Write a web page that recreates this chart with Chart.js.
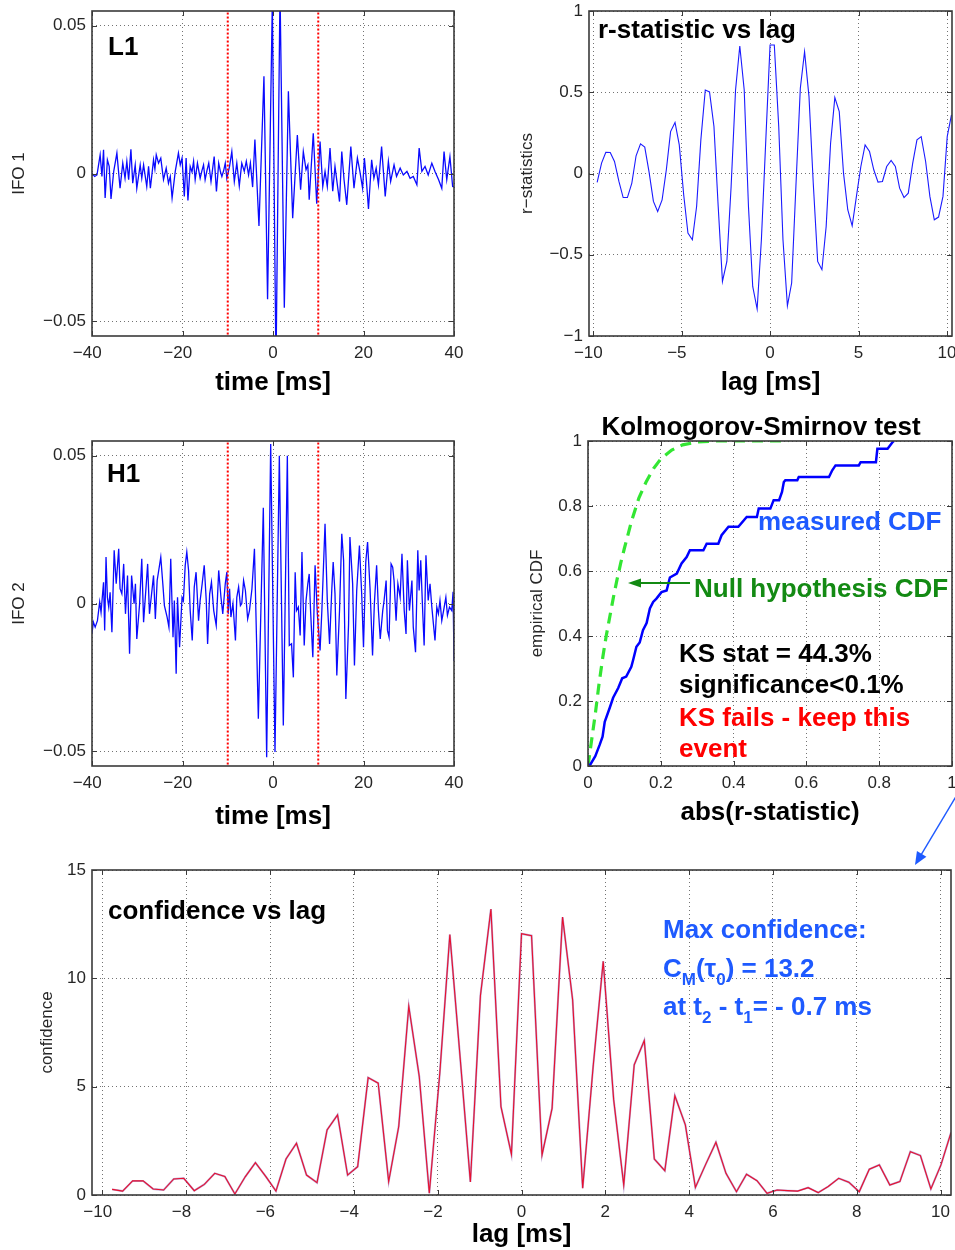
<!DOCTYPE html>
<html>
<head>
<meta charset="utf-8">
<script src="https://cdn.jsdelivr.net/npm/chart.js@4.4.1/dist/chart.umd.min.js"></script>
<style>
html, body { margin: 0; padding: 0; background: #fff; }
#page { position: relative; width: 955px; height: 1250px; overflow: hidden; background: #fff; }
#page canvas { position: absolute; }
</style>
</head>
<body>
<div id="page">
	<canvas id="l1Chart" width="470" height="400" style="left:0;top:0"></canvas>
	<canvas id="rstatChart" width="455" height="400" style="left:500px;top:0"></canvas>
	<canvas id="h1Chart" width="470" height="420" style="left:0;top:420px"></canvas>
	<canvas id="ksChart" width="455" height="440" style="left:500px;top:400px"></canvas>
	<canvas id="confChart" width="955" height="460" style="left:0;top:790px"></canvas>
</div>
<script>
// ---- data ----

// whitened strain, [time ms, value]
var l1Trace = [
	[-40,0],[-39.4,-.001],[-38.9,-.0005],[-38.6,.0024],[-38.2,.0063],[-37.8,-.001],[-37.45,.008],[-37.1,-.0083],
	[-36.6,.0046],[-36.2,.0024],[-35.8,-.0086],[-35.2,.0007],[-34.5,.0069],[-33.8,-.005],[-33.2,.0035],[-32.7,-.0016],
	[-32.3,.0041],[-31.9,-.0021],[-31.4,.0082],[-31.0,-.0033],[-30.45,.0029],[-30.1,-.005],[-29.35,.0029],[-29.0,-.0016],
	[-28.6,.0029],[-27.9,-.0044],[-27.5,.0024],[-27.1,-.005],[-26.4,.0046],[-26.1,.0015],[-25.8,.0063],[-25.3,.0035],
	[-24.8,.0052],[-24.2,-.0021],[-23.6,.0018],[-23.1,-.0033],[-22.7,-.001],[-22.3,-.0083],[-21.6,.0007],[-20.9,.0069],
	[-20.5,.0029],[-20.1,.0052],[-19.6,-.0078],[-19.2,.0052],[-18.8,-.0091],[-18.3,.0024],[-17.9,.0005],[-17.55,.0041],
	[-17.2,-.0021],[-16.7,.0035],[-16.1,-.0016],[-15.7,.001],[-15.35,.0029],[-15.0,-.0021],[-14.6,.001],[-14.2,.0035],
	[-13.7,-.0027],[-13.0,.0057],[-12.5,-.0061],[-12.0,.0035],[-11.6,.0005],[-11.3,-.001],[-10.9,.001],[-10.55,.0035],
	[-10.2,-.0016],[-9.6,.0024],[-9.1,.0074],[-8.55,-.0027],[-8.0,.0035],[-7.45,-.0042],[-6.9,.0035],[-6.35,.0007],
	[-5.9,.0041],[-5.4,-.0005],[-5.0,.0035],[-4.5,-.0046],[-4.0,.0115],[-3.1,-.0178],[-2.0,.0329],[-1.2,-.0426],
	[-0.15,.058],[0.66,-.066],[1.55,.062],[2.5,-.0454],[3.4,.0278],[4.35,-.0151],[5.38,.013],[6.1,-.0055],
	[6.7,.0074],[7.3,.0013],[7.7,.0029],[8.0,-.0089],[8.9,.0136],[9.66,-.0102],[10.4,.0108],[11.0,-.0044],
	[11.5,.0007],[12.0,-.0044],[12.6,.0086],[13.2,-.006],[13.7,.0024],[14.7,-.0095],[15.2,.0074],[15.7,-.0021],
	[16.3,-.0106],[17.2,.0091],[17.9,-.005],[18.65,.0052],[19.2,.0007],[19.8,-.005],[20.2,.0052],[20.6,-.0016],
	[21.1,-.012],[21.8,.0046],[22.3,-.0016],[22.8,.0018],[23.3,-.0038],[24.0,.0091],[24.8,-.0078],[25.5,.0041],
	[26.0,-.0027],[26.75,.0029],[27.3,-.001],[28.1,.0018],[28.8,-.0005],[29.6,.0007],[30.3,-.0016],[31.0,-.001],
	[31.8,-.0038],[32.3,.0086],[32.9,.0007],[33.6,.0024],[34.3,-.0005],[35.1,.0035],[35.8,.0007],[36.6,-.0021],
	[37.3,-.005],[37.8,.0074],[38.4,-.0021],[39.1,.0057],[39.7,-.0044],[40,-.0045]
];

var h1Trace = [
	[-40,-.0101],[-39.7,-.0063],[-39.3,-.008],[-38.8,-.0058],[-38.3,.0005],[-38.0,-.003],[-37.45,.0072],[-37.2,-.0091],
	[-36.9,.0157],[-36.6,.0021],[-36.3,-.0012],[-36.0,.0038],[-35.6,-.0097],[-35.1,.018],[-34.65,.0067],[-34.1,.0185],
	[-33.8,.005],[-33.4,.0033],[-33.0,.0134],[-32.6,-.0035],[-32.15,.0095],[-31.7,-.017],[-31.25,.0095],[-30.7,-.0001],
	[-30.4,.0067],[-30.1,-.012],[-29.5,-.0005],[-29.0,.0151],[-28.6,-.0063],[-27.7,.0134],[-27.3,-.0035],[-26.4,.0095],
	[-26.0,-.0052],[-25.6,.0078],[-24.8,.0157],[-24.35,.0067],[-24.0,-.0007],[-23.4,-.0046],[-23.0,-.008],[-22.6,.0151],
	[-22.1,-.0114],[-21.8,.001],[-21.4,-.0238],[-21.1,.0021],[-20.65,-.0148],[-20.1,.0021],[-19.8,.001],[-19.4,.0129],
	[-19.05,.0174],[-18.65,.0111],[-18.3,-.0024],[-17.85,-.0125],[-17.4,.0056],[-17.0,.0106],[-16.45,-.0058],[-16.1,.001],
	[-15.65,.0067],[-15.2,.0129],[-14.75,.001],[-14.45,-.0137],[-14.0,.0032],[-13.6,.0072],[-13.1,-.0024],[-12.55,-.0074],
	[-12.0,.0112],[-11.5,.0021],[-11.1,-.0035],[-10.55,.0067],[-10.2,.0106],[-9.9,-.0035],[-9.6,.005],[-9.3,-.0046],
	[-8.85,0],[-8.3,-.0125],[-8.0,.0021],[-7.6,.0056],[-7.2,-.0007],[-6.9,0],[-6.5,.0078],[-6.1,.0044],
	[-5.6,-.0052],[-5.2,-.0024],[-4.65,.005],[-4.1,.0185],[-3.24,-.039],[-2.14,.0324],[-1.4,-.052],[-0.51,.054],
	[0.44,-.0503],[1.4,.05],[2.28,-.0413],[3.17,.05],[3.6,-.0142],[4.1,-.0136],[4.5,-.025],[4.9,.0106],
	[5.2,-.0024],[5.6,-.0012],[6.0,-.0108],[6.4,.0174],[6.9,-.0142],[7.3,.001],[7.7,.0067],[8.0,.01],
	[8.3,-.0024],[8.8,-.0182],[9.3,.0129],[9.8,-.0035],[10.4,-.0159],[10.8,-.0024],[11.5,.027],[12.0,.001],
	[12.5,-.0137],[13.0,.005],[13.3,.014],[13.7,.0033],[14.1,-.0244],[14.7,-.0024],[15.2,.0236],[15.6,.0146],
	[16.1,-.0323],[16.7,-.007],[17.0,.0225],[17.6,.0067],[18.0,-.021],[18.5,.0044],[19.1,.0196],[19.6,.0033],
	[20.0,-.0148],[20.5,.014],[20.9,.0208],[21.45,.005],[22.0,-.0176],[22.4,0],[22.9,.0129],[23.3,-.0024],
	[23.7,-.012],[24.25,-.0024],[24.55,.001],[25.0,.0078],[25.3,-.0091],[25.65,-.0114],[26.1,.0134],[26.45,.0123],
	[26.75,.0078],[27.2,-.0058],[27.6,.0067],[28.1,.0021],[28.5,.0168],[29.0,-.0024],[29.4,-.0103],[29.7,.0146],
	[30.15,-.0024],[30.7,.0078],[31.0,-.008],[31.5,-.0165],[32.0,.018],[32.3,.0044],[32.65,.0146],[33.1,-.0035],
	[33.4,-.0142],[33.8,.0163],[34.3,.001],[34.7,.0067],[35.1,-.0012],[35.45,-.0069],[35.8,-.0125],[36.2,-.0012],
	[36.55,-.0035],[36.9,.001],[37.3,-.0058],[37.7,-.0024],[38.2,.0021],[38.55,-.004],[39.0,-.0012],[39.5,-.0024],
	[39.8,.004],[40,-.0195]
];

var windowEdgesMs = [-10, 10];

// lag grid shared by r-statistic and confidence (ms)
var lagMs = [
	-9.77,-9.52,-9.28,-9.03,-8.79,-8.54,-8.30,-8.06,-7.81,-7.57,
	-7.32,-7.08,-6.84,-6.59,-6.35,-6.10,-5.86,-5.62,-5.37,-5.13,
	-4.88,-4.64,-4.39,-4.15,-3.91,-3.66,-3.42,-3.17,-2.93,-2.69,
	-2.44,-2.20,-1.95,-1.71,-1.46,-1.22,-0.98,-0.73,-0.49,-0.24,
	0,0.24,0.49,0.73,0.98,1.22,1.46,1.71,1.95,2.20,
	2.44,2.69,2.93,3.17,3.42,3.66,3.91,4.15,4.39,4.64,
	4.88,5.13,5.37,5.62,5.86,6.10,6.35,6.59,6.84,7.08,
	7.32,7.57,7.81,8.06,8.30,8.54,8.79,9.03,9.28,9.52,
	9.77,10.01,10.25
];

var rStatistic = [
	-.055,.064,.131,.129,.074,-.049,-.148,-.148,-.059,.109,
	.182,.162,.012,-.172,-.234,-.162,.023,.258,.314,.176,
	-.131,-.367,-.408,-.203,.207,.514,.502,.289,-.203,-.664,
	-.541,-.08,.514,.785,.514,-.203,-.695,-.834,-.408,.207,
	.791,.791,.289,-.408,-.814,-.674,-.08,.525,.75,.473,
	-.059,-.541,-.592,-.326,.186,.467,.381,.002,-.223,-.322,
	-.141,.043,.176,.135,.023,-.053,-.049,.043,.08,.043,
	-.09,-.148,-.121,.064,.207,.227,.074,-.141,-.285,-.268,
	-.141,.227,.361
];

var confidence = [
	.26,.18,.65,.65,.28,.23,.74,.77,.20,.49,
	1.0,.85,.05,.85,1.49,.85,.18,1.66,2.39,.92,
	.57,3.0,3.7,.92,1.31,5.42,5.16,.62,3.16,8.71,
	5.47,.08,5.62,12.02,6.24,.6,9.2,13.2,4.08,1.88,
	12.06,11.97,1.85,4.0,12.83,9.01,.31,5.93,10.79,4.39,
	.46,6.01,7.13,1.66,1.12,4.58,3.24,.35,1.39,2.43,
	1.0,.15,.96,.66,.08,.23,.2,.18,.34,.11,
	.39,.77,.59,.15,1.19,1.39,.46,.62,2.0,1.82,
	.28,1.39,2.88
];

// [abs(r), CDF]
var measuredCdf = [
	[.004,0],[.02,.03],[.032,.065],[.04,.09],[.046,.136],[.06,.18],[.069,.21],[.083,.24],[.094,.27],
	[.105,.275],[.119,.305],[.124,.326],[.133,.367],[.142,.38],[.151,.418],[.161,.44],[.17,.485],
	[.179,.505],[.188,.515],[.202,.535],[.216,.54],[.225,.58],[.244,.592],[.257,.623],[.271,.643],
	[.28,.664],[.317,.664],[.326,.684],[.358,.684],[.367,.71],[.386,.736],[.413,.736],[.436,.766],
	[.464,.766],[.469,.792],[.501,.792],[.51,.818],[.525,.818],[.533,.843],[.538,.874],[.542,.879],
	[.575,.879],[.579,.889],[.662,.889],[.671,.91],[.68,.925],[.744,.925],[.749,.935],[.791,.935],
	[.795,.976],[.823,.976],[.837,.997],[.84,1]
];

var nullCdf = [
	[0,0],[.01,.08],[.02,.16],[.03,.25],[.04,.33],[.05,.40],[.06,.46],[.07,.52],[.08,.575],[.09,.625],
	[.10,.67],[.12,.755],[.14,.825],[.16,.875],[.18,.915],[.20,.945],[.23,.972],[.26,.988],[.30,.997],
	[.35,1],[.55,1]
];

// axis ranges and tick labels
var timeRange = [-40, 40], timeTicks = [-40, -20, 0, 20, 40];
var strainRange = [-0.055, 0.055], strainTicks = [-0.05, 0, 0.05];
var rLagRange = [-10.23, 10.28], rLagTicks = [-10, -5, 0, 5, 10];
var rRange = [-1, 1], rTicks = [-1, -0.5, 0, 0.5, 1];
var absRRange = [0, 1], cdfRange = [0, 1], cdfTicks = [0, 0.2, 0.4, 0.6, 0.8, 1];
var confLagRange = [-10.25, 10.25], confLagTicks = [-10, -8, -6, -4, -2, 0, 2, 4, 6, 8, 10];
var confRange = [0, 15], confTicks = [0, 5, 10, 15];


// ---- helpers ----
var FONT = '"Liberation Sans", Arial, Helvetica, sans-serif';
var INK = '#262626';
var BOLD = 26;
Chart.defaults.font.family = FONT;

function pts( pairs ) {
	return pairs.map( function( p ) { return { x: p[0], y: p[1] }; } );
}

function zip( xs, ys ) {
	return xs.map( function( x, i ) { return { x: x, y: ys[i] }; } );
}

function minus( v ) {
	return String( v ).replace( '-', '\u2212' );
}

// no extra room for overhanging tick labels, the axes sit where the figure has them
function noMargins( s ) {
	s.paddingLeft = 0; s.paddingRight = 0; s.paddingTop = 0; s.paddingBottom = 0;
}

function axisX( range, ticks, title, height, titlePad ) {
	return {
		type: 'linear', position: 'bottom', min: range[0], max: range[1],
		afterBuildTicks: function( s ) { s.ticks = ticks.map( function( v ) { return { value: v }; } ); },
		afterFit: function( s ) { s.height = height; noMargins( s ); },
		grid: { color: 'rgba(0,0,0,0.55)', lineWidth: 1, drawTicks: false },
		border: { display: false, dash: [1, 3] },
		ticks: {
			font: { size: 17 }, color: INK, padding: 7, maxRotation: 0, autoSkip: false,
			// matlab centres the digits and lets the minus hang out to the left
			callback: function( v ) { return v < 0 ? minus( v ) + '  ' : String( v ); }
		},
		title: { display: true, text: title, color: '#000', font: { size: BOLD, weight: 'bold' }, padding: { top: 0, bottom: titlePad } }
	};
}

function axisY( range, ticks, title, width, titlePad ) {
	return {
		type: 'linear', position: 'left', min: range[0], max: range[1],
		afterBuildTicks: function( s ) { s.ticks = ticks.map( function( v ) { return { value: v }; } ); },
		afterFit: function( s ) { s.width = width; noMargins( s ); },
		grid: { color: 'rgba(0,0,0,0.55)', lineWidth: 1, drawTicks: false },
		border: { display: false, dash: [1, 3] },
		ticks: { font: { size: 17 }, color: INK, padding: 6, autoSkip: false, callback: minus },
		title: { display: true, text: title, color: INK, font: { size: 17 }, padding: { top: titlePad, bottom: 0 } }
	};
}

function options( padding, x, y ) {
	return {
		responsive: false,
		animation: false,
		layout: { padding: padding },
		plugins: { legend: { display: false }, tooltip: { enabled: false } },
		elements: { point: { radius: 0 }, line: { tension: 0 } },
		scales: { x: x, y: y }
	};
}

function line( data, color, width, extra ) {
	var ds = { data: data, borderColor: color, borderWidth: width, pointRadius: 0, fill: false, clip: 0 };
	for( var k in extra ) ds[k] = extra[k];
	return ds;
}

function windowLine( edge, range ) {
	return line( [ { x: edge, y: range[0] - 1 }, { x: edge, y: range[1] + 1 } ], '#ff0000', 2, { borderDash: [2, 2] } );
}

// box round the axes with matlab style inner ticks
var framePlugin = {
	id: 'frame',
	afterDatasetsDraw: function( chart ) {
		var ctx = chart.ctx, a = chart.chartArea, sx = chart.scales.x, sy = chart.scales.y;
		ctx.save();
		ctx.strokeStyle = '#3a3a3a';
		ctx.lineWidth = 1;
		ctx.beginPath();
		sx.ticks.forEach( function( t ) {
			var p = Math.round( sx.getPixelForValue( t.value ) ) + 0.5;
			ctx.moveTo( p, a.bottom ); ctx.lineTo( p, a.bottom - 5 );
			ctx.moveTo( p, a.top ); ctx.lineTo( p, a.top + 5 );
		});
		sy.ticks.forEach( function( t ) {
			var p = Math.round( sy.getPixelForValue( t.value ) ) + 0.5;
			ctx.moveTo( a.left, p ); ctx.lineTo( a.left + 5, p );
			ctx.moveTo( a.right, p ); ctx.lineTo( a.right - 5, p );
		});
		ctx.stroke();
		ctx.lineWidth = 1.6;
		ctx.strokeRect( a.left, a.top, a.right - a.left, a.bottom - a.top );
		ctx.restore();
	}
};

// text and arrows placed in page pixels, shifted to the canvas origin
function notes( ox, oy, items ) {
	return {
		id: 'notes',
		afterDraw: function( chart ) {
			var ctx = chart.ctx;
			ctx.save();
			ctx.textBaseline = 'alphabetic';
			items.forEach( function( it ) {
				if( it.arrow ) {
					var x1 = it.arrow[0] - ox, y1 = it.arrow[1] - oy, x2 = it.arrow[2] - ox, y2 = it.arrow[3] - oy;
					var ang = Math.atan2( y2 - y1, x2 - x1 ), len = it.head[0], half = it.head[1];
					ctx.strokeStyle = it.color; ctx.fillStyle = it.color; ctx.lineWidth = it.width;
					ctx.beginPath(); ctx.moveTo( x1, y1 );
					ctx.lineTo( x2 - Math.cos( ang ) * len * 0.8, y2 - Math.sin( ang ) * len * 0.8 ); ctx.stroke();
					ctx.beginPath(); ctx.moveTo( x2, y2 );
					ctx.lineTo( x2 - Math.cos( ang ) * len - Math.sin( ang ) * half, y2 - Math.sin( ang ) * len + Math.cos( ang ) * half );
					ctx.lineTo( x2 - Math.cos( ang ) * len + Math.sin( ang ) * half, y2 - Math.sin( ang ) * len - Math.cos( ang ) * half );
					ctx.closePath(); ctx.fill();
					return;
				}
				ctx.fillStyle = it.color || '#000';
				var size = it.size || BOLD;
				if( it.runs ) {
					var x = it.x - ox;
					it.runs.forEach( function( r ) {
						ctx.font = 'bold ' + ( r.sub ? 17 : size ) + 'px ' + FONT;
						ctx.textAlign = 'left';
						ctx.fillText( r.t, x, it.y - oy + ( r.sub ? 8 : 0 ) );
						x += ctx.measureText( r.t ).width;
					});
					return;
				}
				ctx.font = 'bold ' + size + 'px ' + FONT;
				ctx.textAlign = it.align || 'left';
				ctx.fillText( it.text, it.x - ox, it.y - oy );
			});
			ctx.restore();
		}
	};
}


// ---- L1 ----
new Chart( document.getElementById( 'l1Chart' ), {
	type: 'line',
	data: { datasets: [
		windowLine( windowEdgesMs[0], strainRange ),
		windowLine( windowEdgesMs[1], strainRange ),
		line( pts( l1Trace ), '#0a0aff', 1.3 )
	] },
	options: options( { left: 0, right: 16, top: 11, bottom: 0 },
		axisX( timeRange, timeTicks, 'time [ms]', 64, 2 ),
		axisY( strainRange, strainTicks, 'IFO 1', 92, 9 ) ),
	plugins: [ framePlugin, notes( 0, 0, [ { text: 'L1', x: 108, y: 55 } ] ) ]
});

// ---- r-statistic ----
new Chart( document.getElementById( 'rstatChart' ), {
	type: 'line',
	data: { datasets: [ line( zip( lagMs, rStatistic ), '#1a1aff', 1.1 ) ] },
	options: options( { left: 0, right: 3, top: 11, bottom: 0 },
		axisX( rLagRange, rLagTicks, 'lag [ms]', 64, 2 ),
		axisY( rRange, rTicks, 'r\u2212statistics', 89, 17 ) ),
	plugins: [ framePlugin, notes( 500, 0, [ { text: 'r-statistic vs lag', x: 598, y: 38 } ] ) ]
});

// ---- H1 ----
new Chart( document.getElementById( 'h1Chart' ), {
	type: 'line',
	data: { datasets: [
		windowLine( windowEdgesMs[0], strainRange ),
		windowLine( windowEdgesMs[1], strainRange ),
		line( pts( h1Trace ), '#0a0aff', 1.3 )
	] },
	options: options( { left: 0, right: 16, top: 21, bottom: 0 },
		axisX( timeRange, timeTicks, 'time [ms]', 74, 8 ),
		axisY( strainRange, strainTicks, 'IFO 2', 92, 9 ) ),
	plugins: [ framePlugin, notes( 0, 420, [ { text: 'H1', x: 107, y: 482 } ] ) ]
});

// ---- Kolmogorov-Smirnov ----
new Chart( document.getElementById( 'ksChart' ), {
	type: 'line',
	data: { datasets: [
		line( pts( measuredCdf ), '#0000ff', 2.5 ),
		line( pts( nullCdf ), '#33e633', 3.2, { borderDash: [11, 7] } )
	] },
	options: options( { left: 0, right: 3, top: 41, bottom: 0 },
		axisX( absRRange, cdfTicks, 'abs(r-statistic)', 74, 12 ),
		axisY( cdfRange, cdfTicks, 'empirical CDF', 88, 27 ) ),
	plugins: [ framePlugin, notes( 500, 400, [
		{ text: 'Kolmogorov-Smirnov test', x: 761, y: 435, align: 'center' },
		{ text: 'measured CDF', x: 758, y: 530, color: '#1e5aff' },
		{ arrow: [ 690, 583, 628, 583 ], color: '#138a13', width: 2, head: [ 13, 4.5 ] },
		{ text: 'Null hypothesis CDF', x: 694, y: 597, color: '#138a13' },
		{ text: 'KS stat = 44.3%', x: 679, y: 662 },
		{ text: 'significance<0.1%', x: 679, y: 693 },
		{ text: 'KS fails - keep this', x: 679, y: 726, color: '#ff0000' },
		{ text: 'event', x: 679, y: 757, color: '#ff0000' }
	] ) ]
});

// ---- confidence ----
new Chart( document.getElementById( 'confChart' ), {
	type: 'line',
	data: { datasets: [
		line( zip( lagMs, confidence ), '#e8102e', 1.1 ),
		line( zip( lagMs, confidence ), 'rgba(130,80,170,0.55)', 2 )
	] },
	options: options( { left: 0, right: 4, top: 80, bottom: 0 },
		axisX( confLagRange, confLagTicks, 'lag [ms]', 55, 0 ),
		axisY( confRange, confTicks, 'confidence', 92, 37 ) ),
	plugins: [ framePlugin, notes( 0, 790, [
		{ arrow: [ 958, 793, 915, 865 ], color: '#1e5aff', width: 1.4, head: [ 13, 5.5 ] },
		{ text: 'confidence vs lag', x: 108, y: 919 },
		{ text: 'Max confidence:', x: 663, y: 938, color: '#1e5aff' },
		{ runs: [ { t: 'C' }, { t: 'M', sub: 1 }, { t: '(\u03c4' }, { t: '0', sub: 1 }, { t: ') = 13.2' } ], x: 663, y: 977, color: '#1e5aff' },
		{ runs: [ { t: 'at t' }, { t: '2', sub: 1 }, { t: ' - t' }, { t: '1', sub: 1 }, { t: '= - 0.7 ms' } ], x: 663, y: 1015, color: '#1e5aff' }
	] ) ]
});
</script>
</body>
</html>
